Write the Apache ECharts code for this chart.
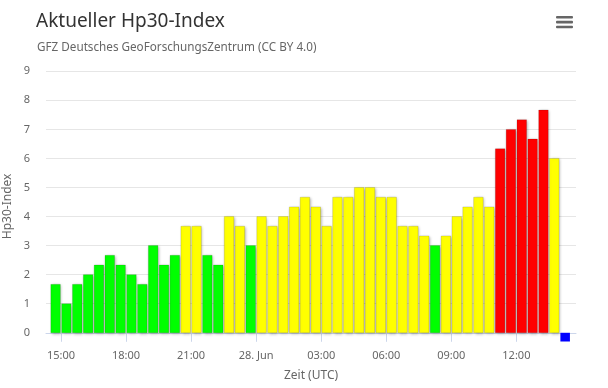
<!DOCTYPE html>
<html>
<head>
<meta charset="utf-8">
<script src="https://cdn.jsdelivr.net/npm/echarts@6/dist/echarts.min.js"></script>
<style>
  html, body { margin: 0; padding: 0; background: #fff; }
  #chart { width: 608px; height: 388px; }
</style>
</head>
<body>
<div id="chart"></div>
<script>
// Hp30 values, one per 30-minute slot, starting 27 Jun 14:30 UTC
const slotStart = '2025-06-27T14:30:00Z';
const hp30Values = [
  1.667, 1.0, 1.667, 2.0, 2.333, 2.667, 2.333, 2.0, 1.667, 3.0, 2.333, 2.667,
  3.667, 3.667, 2.667, 2.333, 4.0, 3.667, 3.0, 4.0, 3.667, 4.0, 4.333, 4.667,
  4.333, 3.667, 4.667, 4.667, 5.0, 5.0, 4.667, 4.667, 3.667, 3.667, 3.333, 3.0,
  3.333, 4.0, 4.333, 4.667, 4.333, 6.333, 7.0, 7.333, 6.667, 7.667, 6.0
];
// pending (not yet final) slot, 28 Jun 14:00 UTC
const pendingTimes = ['2025-06-28T14:00:00Z'];
const pendingValues = [-0.3];
const yTicks = [0, 1, 2, 3, 4, 5, 6, 7, 8, 9];
const xTickTimes = [
  '2025-06-27T15:00:00Z', '2025-06-27T18:00:00Z', '2025-06-27T21:00:00Z',
  '2025-06-28T00:00:00Z', '2025-06-28T03:00:00Z', '2025-06-28T06:00:00Z',
  '2025-06-28T09:00:00Z', '2025-06-28T12:00:00Z'
];
const xTickLabels = ['15:00', '18:00', '21:00', '28. Jun', '03:00', '06:00', '09:00', '12:00'];

const SLOT = 30 * 60 * 1000;
const t0 = Date.parse(slotStart);
const hpData = hp30Values.map((v, i) => [t0 + i * SLOT + SLOT / 2, v]);
const pendData = pendingValues.map((v, i) => [Date.parse(pendingTimes[i]) + SLOT / 2, v]);
const xTickValues = xTickTimes.map(s => Date.parse(s));

const FONT = 'Noto Sans';
function colorFor(v) {
  if (v < 0) return '#0000ff';
  if (v >= 6.33) return '#ff0000';
  if (v >= 3.33) return '#ffff00';
  return '#00ff00';
}

function renderBar(params, api) {
  const t = api.value(0), v = api.value(1);
  const p0 = api.coord([t, 0]);
  const p1 = api.coord([t, v]);
  const slotPx = api.size([SLOT, 0])[0];
  const bw = slotPx * 0.88;
  const neg = v < 0;
  return {
    type: 'rect',
    shape: { x: p0[0] - bw / 2, y: Math.min(p0[1], p1[1]), width: bw, height: Math.abs(p1[1] - p0[1]) },
    style: neg ? { fill: colorFor(v) } : {
      fill: colorFor(v),
      stroke: 'rgba(0,0,0,0.12)',
      lineWidth: 1,
      shadowColor: 'rgba(0,0,0,0.3)',
      shadowBlur: 3,
      shadowOffsetX: 1,
      shadowOffsetY: 1
    }
  };
}

const chart = echarts.init(document.getElementById('chart'), null, { renderer: 'canvas' });
chart.setOption({
  animation: false,
  backgroundColor: '#ffffff',
  textStyle: { fontFamily: FONT },
  title: [
    { text: 'Aktueller Hp30-Index', left: 36, top: 12, padding: 0,
      textStyle: { fontSize: 19, fontWeight: 'normal', color: '#333333', fontFamily: FONT } },
    { text: 'GFZ Deutsches GeoForschungsZentrum (CC BY 4.0)', left: 37, top: 42, padding: 0,
      textStyle: { fontSize: 11.7, fontWeight: 'normal', color: '#666666', fontFamily: FONT } }
  ],
  graphic: [
    { type: 'rect', left: 556, top: 16, shape: { width: 17, height: 2.6, r: 1 }, style: { fill: '#666666' } },
    { type: 'rect', left: 556, top: 20.8, shape: { width: 17, height: 2.6, r: 1 }, style: { fill: '#666666' } },
    { type: 'rect', left: 556, top: 25.7, shape: { width: 17, height: 2.6, r: 1 }, style: { fill: '#666666' } }
  ],
  grid: { left: 46, right: 32, top: 71.3, bottom: 46.5, outerBoundsMode: 'none', containLabel: false },
  xAxis: {
    type: 'value',
    min: Date.parse('2025-06-27T14:18:30Z'),
    max: Date.parse('2025-06-28T14:45:00Z'),
    name: 'Zeit (UTC)',
    nameLocation: 'middle',
    nameGap: 28,
    nameMoveOverlap: false,
    nameTextStyle: { fontSize: 12, color: '#666666', fontFamily: FONT },
    axisLine: { lineStyle: { color: '#ccd6eb', width: 1 } },
    axisTick: { show: true, length: 9, customValues: xTickValues, lineStyle: { color: '#ccd6eb' } },
    splitLine: { show: false },
    axisLabel: {
      show: true, margin: 9, fontSize: 11, color: '#666666', fontFamily: FONT,
      customValues: xTickValues, hideOverlap: false,
      formatter: function (val) {
        const i = xTickValues.indexOf(val);
        return i >= 0 ? xTickLabels[i] : '';
      }
    }
  },
  yAxis: {
    type: 'value',
    min: -0.3,
    max: 9,
    name: 'Hp30-Index',
    nameLocation: 'middle',
    nameRotate: 90,
    nameGap: 32,
    nameMoveOverlap: false,
    nameTextStyle: { fontSize: 12, color: '#666666', fontFamily: FONT },
    axisLine: { show: false },
    axisTick: { show: false, customValues: yTicks },
    splitLine: { show: true, lineStyle: { color: '#e6e6e6', width: 1 } },
    axisLabel: {
      margin: 16, fontSize: 11, color: '#666666', fontFamily: FONT,
      customValues: yTicks,
      formatter: function (v) { return String(v); }
    }
  },
  series: [
    {
      type: 'custom',
      name: 'Hp30',
      renderItem: renderBar,
      encode: { x: 0, y: 1 },
      data: hpData
    },
    {
      type: 'custom',
      name: 'pending',
      renderItem: renderBar,
      encode: { x: 0, y: 1 },
      data: pendData
    }
  ]
});
</script>
</body>
</html>
